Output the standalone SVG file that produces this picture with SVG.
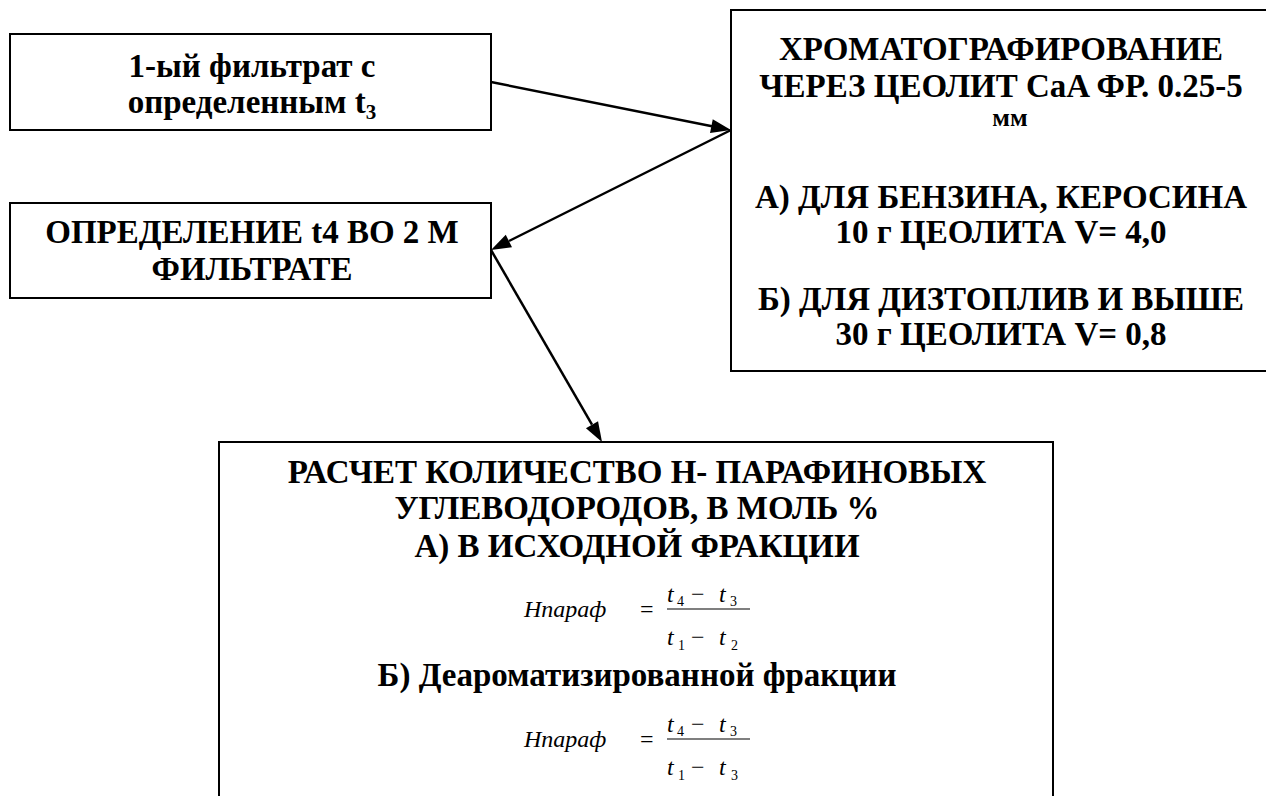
<svg xmlns="http://www.w3.org/2000/svg" width="1266" height="796" viewBox="0 0 1266 796">
  <rect width="1266" height="796" fill="#fff"/>

  <g id="node-filtrate1" font-family="Liberation Serif, Times New Roman, serif" font-weight="bold" font-size="33" text-anchor="middle">
    <rect x="10" y="34" width="481" height="96" fill="#fff" stroke="#000" stroke-width="2"/>
    <text x="252" y="77">1-ый фильтрат с</text>
    <text x="252" y="113">определенным t<tspan font-size="21" dy="6">3</tspan></text>
  </g>

  <g id="node-chromatography" font-family="Liberation Serif, Times New Roman, serif" font-weight="bold" font-size="33" text-anchor="middle">
    <rect x="731" y="10" width="545" height="361" fill="#fff" stroke="#000" stroke-width="2"/>
    <text x="1001" y="60">ХРОМАТОГРАФИРОВАНИЕ</text>
    <text x="1001" y="97">ЧЕРЕЗ ЦЕОЛИТ CaA ФР. 0.25-5</text>
    <text x="1010" y="126" font-size="26">мм</text>
    <text x="1001" y="208">А) ДЛЯ БЕНЗИНА, КЕРОСИНА</text>
    <text x="1001" y="243">10 г ЦЕОЛИТА V= 4,0</text>
    <text x="1001" y="310">Б) ДЛЯ ДИЗТОПЛИВ И ВЫШЕ</text>
    <text x="1001" y="345">30 г ЦЕОЛИТА V= 0,8</text>
  </g>

  <g id="node-t4" font-family="Liberation Serif, Times New Roman, serif" font-weight="bold" font-size="33" text-anchor="middle">
    <rect x="10" y="203" width="481" height="95" fill="#fff" stroke="#000" stroke-width="2"/>
    <text x="252" y="243">ОПРЕДЕЛЕНИЕ t4 ВО 2 М</text>
    <text x="252" y="280">ФИЛЬТРАТЕ</text>
  </g>

  <g id="node-calc" font-family="Liberation Serif, Times New Roman, serif">
    <rect x="219" y="442" width="834" height="370" fill="#fff" stroke="#000" stroke-width="2"/>
    <g font-weight="bold" font-size="33" text-anchor="middle">
      <text x="637" y="483">РАСЧЕТ КОЛИЧЕСТВО Н- ПАРАФИНОВЫХ</text>
      <text x="637" y="519">УГЛЕВОДОРОДОВ, В МОЛЬ %</text>
      <text x="637" y="557">А) В ИСХОДНОЙ ФРАКЦИИ</text>
      <text x="637" y="686">Б) Деароматизированной фракции</text>
    </g>
    <g id="formula1" font-size="24">
      <text x="524" y="617" font-style="italic">Нпараф</text>
      <text x="640" y="617">=</text>
      <line x1="667" y1="609" x2="750" y2="609" stroke="#000" stroke-width="1.2"/>
      <text x="667" y="602" font-style="italic">t</text>
      <text x="677" y="606" font-size="14">4</text>
      <text x="691" y="602">−</text>
      <text x="719" y="602" font-style="italic">t</text>
      <text x="730" y="606" font-size="14">3</text>
      <text x="667" y="645" font-style="italic">t</text>
      <text x="678" y="650" font-size="14">1</text>
      <text x="691" y="645">−</text>
      <text x="719" y="645" font-style="italic">t</text>
      <text x="731" y="650" font-size="14">2</text>
    </g>
    <g id="formula2" font-size="24">
      <text x="524" y="747" font-style="italic">Нпараф</text>
      <text x="640" y="747">=</text>
      <line x1="667" y1="739" x2="750" y2="739" stroke="#000" stroke-width="1.2"/>
      <text x="667" y="732" font-style="italic">t</text>
      <text x="677" y="736" font-size="14">4</text>
      <text x="691" y="732">−</text>
      <text x="719" y="732" font-style="italic">t</text>
      <text x="730" y="736" font-size="14">3</text>
      <text x="667" y="775" font-style="italic">t</text>
      <text x="678" y="780" font-size="14">1</text>
      <text x="691" y="775">−</text>
      <text x="719" y="775" font-style="italic">t</text>
      <text x="731" y="780" font-size="14">3</text>
    </g>
  </g>

  <g id="connectors" stroke="#000" stroke-width="2.5" fill="#000">
    <line x1="491" y1="82" x2="712" y2="126.2"/>
    <polygon points="731,130 710.02,132.94 712.76,119.22" stroke="none"/>
    <line x1="731" y1="130" x2="509" y2="241"/>
    <polygon points="491,250 505.76,234.80 512.02,247.32" stroke="none"/>
    <line x1="491" y1="250" x2="592" y2="424.7"/>
    <polygon points="602,442 585.93,428.19 598.05,421.19" stroke="none"/>
  </g>
</svg>
